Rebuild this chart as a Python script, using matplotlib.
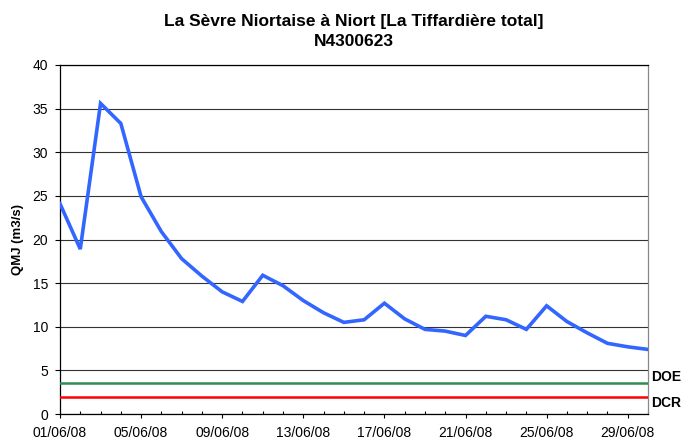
import matplotlib
matplotlib.use("Agg")
import matplotlib.pyplot as plt
from matplotlib.ticker import MultipleLocator

dates = ["01/06/08", "02/06/08", "03/06/08", "04/06/08", "05/06/08", "06/06/08",
         "07/06/08", "08/06/08", "09/06/08", "10/06/08", "11/06/08", "12/06/08",
         "13/06/08", "14/06/08", "15/06/08", "16/06/08", "17/06/08", "18/06/08",
         "19/06/08", "20/06/08", "21/06/08", "22/06/08", "23/06/08", "24/06/08",
         "25/06/08", "26/06/08", "27/06/08", "28/06/08", "29/06/08", "30/06/08"]
qmj = [24.1, 18.9, 35.6, 33.3, 24.9, 20.9, 17.8, 15.8, 14.0, 12.9,
       15.9, 14.7, 13.0, 11.6, 10.5, 10.8, 12.7, 10.9, 9.7, 9.5,
       9.0, 11.2, 10.8, 9.7, 12.4, 10.6, 9.3, 8.1, 7.7, 7.4]
doe = 3.5
dcr = 2.0

plt.rcParams['font.family'] = ['Liberation Sans', 'DejaVu Sans']

fig = plt.figure(figsize=(6.96, 4.41), dpi=100)
ax = fig.add_axes([60/696, 1-414/441, 588/696, 349/441])

x = list(range(len(dates)))
ax.plot(x, qmj, color='#3366ff', lw=2.6, solid_joinstyle='miter', zorder=4)
ax.plot([x[0], x[-1]], [doe, doe], color='#2e8b57', lw=1.8, zorder=3)
ax.plot([x[0], x[-1]], [dcr, dcr], color='#ff0000', lw=1.8, zorder=3)

ax.set_xlim(0, len(dates) - 1)
ax.set_ylim(0, 40)
ax.yaxis.set_major_locator(MultipleLocator(5))
ax.set_xticks(x[::4])
ax.set_xticklabels(dates[::4], fontsize=10)
ax.set_xticks(x, minor=True)
ax.tick_params(axis='x', which='major', direction='out', length=3, width=0.8, color='black', pad=5.3)
ax.tick_params(axis='x', which='minor', direction='in', length=2.5, width=0.8, color='black')
ax.tick_params(axis='y', which='major', direction='out', length=3.6, width=0.8, labelsize=10, pad=5)
ax.grid(axis='y', color='#333333', lw=0.8, zorder=1)
ax.set_axisbelow(True)

for s in ['left', 'bottom', 'top']:
    ax.spines[s].set_color('black')
    ax.spines[s].set_linewidth(0.9)
ax.spines['right'].set_color('#888888')
ax.spines['right'].set_linewidth(0.9)

ax.set_ylabel('QMJ (m3/s)', fontsize=9.5, fontweight='bold', labelpad=6)

ax.text(1.005, doe + 0.77, 'DOE', transform=ax.get_yaxis_transform(), fontsize=10,
        fontweight='bold', ha='left', va='center')
ax.text(1.005, dcr - 0.77, 'DCR', transform=ax.get_yaxis_transform(), fontsize=10,
        fontweight='bold', ha='left', va='center')

fig.text(354/696, 1-26/441, 'La Sèvre Niortaise à Niort [La Tiffardière total]',
         ha='center', va='baseline', fontsize=12.5, fontweight='bold')
fig.text(354/696, 1-46.5/441, 'N4300623', ha='center', va='baseline',
         fontsize=12.5, fontweight='bold')

fig.savefig('out.png', dpi=100)
